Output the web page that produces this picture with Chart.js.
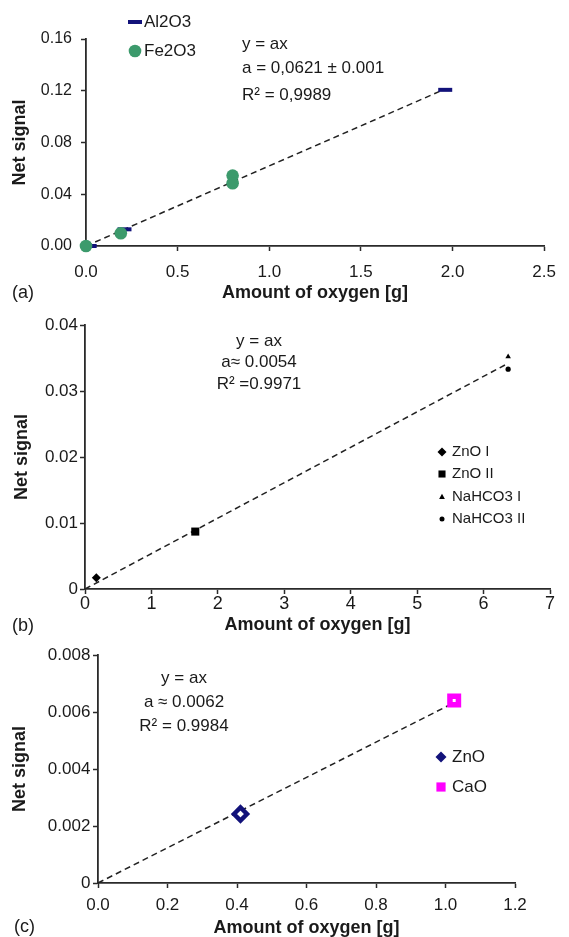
<!DOCTYPE html>
<html><head><meta charset="utf-8">
<script src="https://cdn.jsdelivr.net/npm/chart.js@4.4.1/dist/chart.umd.min.js"></script>
<style>
html,body{margin:0;padding:0;background:#fff;}
body{width:569px;height:937px;position:relative;overflow:hidden;}
.wrap{position:absolute;left:0;width:569px;}
canvas{display:block;}
</style></head><body>
<div class="wrap" style="top:0;height:310px"><canvas id="ca" width="569" height="310"></canvas></div>
<div class="wrap" style="top:300px;height:340px"><canvas id="cb" width="569" height="340"></canvas></div>
<div class="wrap" style="top:630px;height:307px"><canvas id="cc" width="569" height="307"></canvas></div>
<script>
// ---------- Panel (a) ----------
const al2o3X = [0.02, 0.21, 1.96];
const al2o3Y = [0.000, 0.0129, 0.1207];
const fe2o3X = [0.00, 0.19, 0.80, 0.80];
const fe2o3Y = [0.000, 0.0098, 0.0544, 0.0485];
const trendAX = [0, 1.93];
const trendAY = [0, 0.1195];
const xLabelsA = ['0.0', '0.5', '1.0', '1.5', '2.0', '2.5'];
const yLabelsA = ['0.00', '0.04', '0.08', '0.12', '0.16'];
const eqA = ['y = ax', 'a = 0,0621 \u00b1 0.001', 'R\u00b2 = 0,9989'];

// ---------- Panel (b) ----------
const znoIX = [0.17], znoIY = [0.0017];
const znoIIX = [1.66], znoIIY = [0.0087];
const nahco3IX = [6.37], nahco3IY = [0.0352];
const nahco3IIX = [6.37], nahco3IIY = [0.0333];
const trendBX = [0, 6.37];
const trendBY = [0, 0.0342];
const xLabelsB = ['0', '1', '2', '3', '4', '5', '6', '7'];
const yLabelsB = ['0', '0.01', '0.02', '0.03', '0.04'];
const eqB = ['y = ax', 'a\u2248 0.0054', 'R\u00b2 =0.9971'];

// ---------- Panel (c) ----------
const znoX = [0.41], znoY = [0.00242];
const caoX = [1.025], caoY = [0.0064];
const trendCX = [0, 1.02];
const trendCY = [0, 0.0063];
const xLabelsC = ['0.0', '0.2', '0.4', '0.6', '0.8', '1.0', '1.2'];
const yLabelsC = ['0', '0.002', '0.004', '0.006', '0.008'];
const eqC = ['y = ax', 'a \u2248 0.0062', 'R\u00b2 = 0.9984'];

const panelLabels = ['(a)', '(b)', '(c)'];
const xTitle = 'Amount of oxygen [g]';
const yTitle = 'Net signal';

const FONT = "'Liberation Sans', Arial, Helvetica, sans-serif";
const TXT = '#1a1a1a';
const AX = '#2a2a2a';
const NAVY = '#12127a';
const GREEN = '#3c9a6c';
const MAGENTA = '#ff00ff';

function pts(xs, ys) { return xs.map((x, i) => ({x: x, y: ys[i]})); }

function drawMarker(ctx, style, x, y, r, color, lw) {
  ctx.save();
  ctx.fillStyle = color; ctx.strokeStyle = color;
  ctx.beginPath();
  if (style === 'circle') { ctx.arc(x, y, r, 0, Math.PI * 2); ctx.fill(); }
  else if (style === 'rect') { const s = r * Math.SQRT1_2; ctx.rect(x - s, y - s, 2 * s, 2 * s); ctx.fill(); }
  else if (style === 'rectRot') { ctx.moveTo(x - r, y); ctx.lineTo(x, y - r); ctx.lineTo(x + r, y); ctx.lineTo(x, y + r); ctx.closePath(); ctx.fill(); }
  else if (style === 'triangle') { ctx.moveTo(x, y - r); ctx.lineTo(x + r * 0.9, y + r * 0.6); ctx.lineTo(x - r * 0.9, y + r * 0.6); ctx.closePath(); ctx.fill(); }
  else if (style === 'line') { ctx.lineWidth = lw || 2; ctx.moveTo(x - r, y); ctx.lineTo(x + r, y); ctx.stroke(); }
  ctx.restore();
}

const overlay = {
  id: 'overlay',
  afterDraw(chart, args, opts) {
    const ctx = chart.ctx;
    (opts.texts || []).forEach(t => {
      ctx.save();
      ctx.font = t.font; ctx.fillStyle = TXT;
      ctx.textAlign = t.align || 'left'; ctx.textBaseline = 'middle';
      ctx.fillText(t.text, t.x, t.y);
      ctx.restore();
    });
    const lg = opts.legend;
    if (lg) {
      lg.items.forEach((it, i) => {
        const ds = chart.data.datasets[it.ds];
        const y = lg.rows[i];
        drawMarker(ctx, it.style || ds.pointStyle, lg.markerX, y, it.r, ds.legendColor || ds.borderColor, it.lw);
        ctx.save();
        ctx.font = lg.font; ctx.fillStyle = TXT; ctx.textAlign = 'left'; ctx.textBaseline = 'middle';
        ctx.fillText(ds.label, lg.textX, y);
        ctx.restore();
      });
    }
  }
};

function makeChart(id, H, box, datasets, sc, ov) {
  const axisCommon = (labels, tickFont, tickPad) => ({
    type: 'linear',
    ticks: {
      color: TXT, font: {family: FONT, size: tickFont, lineHeight: 1}, padding: tickPad,
      autoSkip: false, maxRotation: 0,
      callback: (v, i) => labels[i]
    },
    grid: {display: true, drawOnChartArea: false, drawTicks: true, tickLength: 5, tickColor: AX, tickWidth: 1.5},
    border: {display: true, color: AX, width: 1.8}
  });
  const x = axisCommon(sc.xLabels, sc.xFont, sc.xPad);
  x.position = 'bottom'; x.min = sc.xMin; x.max = sc.xMax; x.ticks.stepSize = sc.xStep;
  x.title = {display: true, text: xTitle, color: TXT, font: {family: FONT, size: 18, weight: 'bold', lineHeight: 1}, padding: {top: 0, bottom: sc.xTitlePad}};
  x.afterFit = s => { s.height = H - box.bottom; };
  const y = axisCommon(sc.yLabels, sc.yFont, sc.yPad);
  y.position = 'left'; y.min = sc.yMin; y.max = sc.yMax; y.ticks.stepSize = sc.yStep;
  y.title = {display: true, text: yTitle, color: TXT, font: {family: FONT, size: 18, weight: 'bold', lineHeight: 1}, padding: {top: sc.yTitlePad, bottom: 0}};
  y.afterFit = s => { s.width = box.left; };
  return new Chart(document.getElementById(id), {
    type: 'scatter',
    data: {datasets: datasets},
    options: {
      responsive: false, animation: false, devicePixelRatio: 1, events: [],
      layout: {padding: {top: box.top, right: 569 - box.right, left: 0, bottom: 0}},
      scales: {x: x, y: y},
      plugins: {legend: {display: false}, tooltip: {enabled: false}, overlay: ov}
    },
    plugins: [overlay]
  });
}

function trend(xs, ys) {
  return {type: 'line', label: 'fit', data: pts(xs, ys), showLine: true, borderColor: '#222', borderWidth: 1.5,
          borderDash: [6, 4], pointRadius: 0, fill: false, clip: false};
}

const fA = (s, w) => (w || '') + ' ' + s + 'px ' + FONT;

// ---- Chart (a)
makeChart('ca', 310, {left: 86, right: 553, top: 39, bottom: 246}, [
  {label: 'Fe2O3', data: pts(fe2o3X, fe2o3Y), pointStyle: 'circle', pointRadius: 6.3, backgroundColor: GREEN, borderColor: GREEN, borderWidth: 0, clip: false},
  {label: 'Al2O3', data: pts(al2o3X, al2o3Y), pointStyle: 'line', pointRadius: 7, borderColor: NAVY, backgroundColor: NAVY, pointBorderWidth: 4, borderWidth: 4, clip: false},
  trend(trendAX, trendAY)
], {xMin: 0, xMax: 2.5, xStep: 0.5, yMin: 0, yMax: 0.16, yStep: 0.04, xLabels: xLabelsA, yLabels: yLabelsA,
    xFont: 17, yFont: 16, xPad: 13, yPad: 9, xTitlePad: 8, yTitlePad: 11},
{
  texts: [
    {text: eqA[0], x: 242, y: 44, font: fA(17)},
    {text: eqA[1], x: 242, y: 68, font: fA(17)},
    {text: eqA[2], x: 242, y: 95, font: fA(17)},
    {text: panelLabels[0], x: 12, y: 293, font: fA(18)}
  ],
  legend: {markerX: 135, textX: 144, rows: [22, 51], font: fA(17),
    items: [{ds: 1, r: 7, lw: 4}, {ds: 0, r: 6.3}]}
});

// ---- Chart (b)
makeChart('cb', 340, {left: 85, right: 550, top: 25, bottom: 289}, [
  {label: 'ZnO I', data: pts(znoIX, znoIY), pointStyle: 'rectRot', pointRadius: 4.5, backgroundColor: '#000', borderColor: '#000', borderWidth: 0, clip: false},
  {label: 'ZnO II', data: pts(znoIIX, znoIIY), pointStyle: 'rect', pointRadius: 5.7, backgroundColor: '#000', borderColor: '#000', borderWidth: 0, clip: false},
  {label: 'NaHCO3 I', data: pts(nahco3IX, nahco3IY), pointStyle: 'triangle', pointRadius: 3.2, backgroundColor: '#000', borderColor: '#000', borderWidth: 0, clip: false},
  {label: 'NaHCO3 II', data: pts(nahco3IIX, nahco3IIY), pointStyle: 'circle', pointRadius: 2.6, backgroundColor: '#000', borderColor: '#000', borderWidth: 0, clip: false},
  trend(trendBX, trendBY)
], {xMin: 0, xMax: 7, xStep: 1, yMin: 0, yMax: 0.04, yStep: 0.01, xLabels: xLabelsB, yLabels: yLabelsB,
    xFont: 18, yFont: 17, xPad: 1, yPad: 2, xTitlePad: 6, yTitlePad: 13},
{
  texts: [
    {text: eqB[0], x: 259, y: 41, font: fA(17), align: 'center'},
    {text: eqB[1], x: 259, y: 62, font: fA(17), align: 'center'},
    {text: eqB[2], x: 259, y: 84, font: fA(17), align: 'center'},
    {text: panelLabels[1], x: 12, y: 326, font: fA(18)}
  ],
  legend: {markerX: 442, textX: 452, rows: [152, 174, 197, 219], font: fA(15),
    items: [{ds: 0, r: 4.5}, {ds: 1, r: 5}, {ds: 2, r: 3.2}, {ds: 3, r: 2.5}]}
});

// ---- Chart (c)
makeChart('cc', 307, {left: 98, right: 515, top: 25, bottom: 253}, [
  {label: 'ZnO', data: pts(znoX, znoY), pointStyle: 'rectRot', pointRadius: 6.5, backgroundColor: '#fff', borderColor: NAVY, borderWidth: 4.5, pointBorderWidth: 4.5, clip: false},
  {label: 'CaO', data: pts(caoX, caoY), pointStyle: 'rect', pointRadius: 6, backgroundColor: '#fff', borderColor: MAGENTA, borderWidth: 5.5, pointBorderWidth: 5.5, clip: false},
  trend(trendCX, trendCY)
], {xMin: 0, xMax: 1.2, xStep: 0.2, yMin: 0, yMax: 0.008, yStep: 0.002, xLabels: xLabelsC, yLabels: yLabelsC,
    xFont: 17, yFont: 17, xPad: 8.5, yPad: 2.6, xTitlePad: 0, yTitlePad: 11},
{
  texts: [
    {text: eqC[0], x: 184, y: 48, font: fA(17), align: 'center'},
    {text: eqC[1], x: 184, y: 72, font: fA(17), align: 'center'},
    {text: eqC[2], x: 184, y: 96, font: fA(17), align: 'center'},
    {text: panelLabels[2], x: 14, y: 297, font: fA(18)}
  ],
  legend: {markerX: 441, textX: 452, rows: [127, 157], font: fA(17),
    items: [{ds: 0, r: 5.5}, {ds: 1, r: 6.5}]}
});
</script>
</body></html>
